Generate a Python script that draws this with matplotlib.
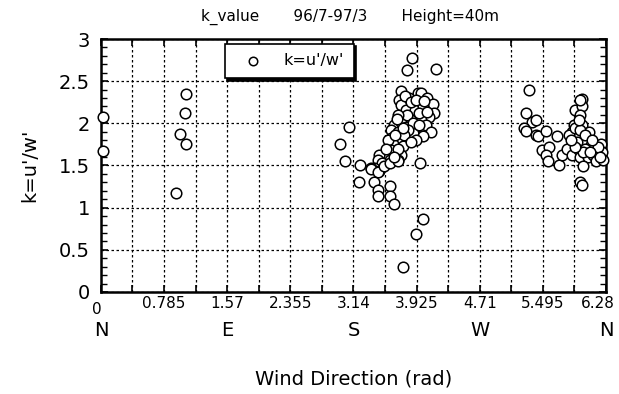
import numpy as np
import matplotlib.pyplot as plt
from matplotlib.ticker import MultipleLocator
import matplotlib.transforms as mtransforms

# wind direction (rad) and k = u'/w'
dir_north_east = [0.03, 0.03, 1.06, 1.05, 0.98, 1.06, 0.93]
k_north_east = [2.07, 1.67, 2.35, 2.12, 1.87, 1.76, 1.17]

dir_south = [3.87, 3.80, 4.17, 3.09, 2.97, 3.04, 3.22, 3.21, 3.97,
             3.73, 3.83, 3.94, 3.98, 4.05, 3.71, 3.73, 4.13, 4.14, 3.79,
             3.90, 4.00, 4.08, 3.75, 3.86, 3.98, 3.65, 3.73, 4.04, 3.79,
             3.90, 4.10, 3.61, 3.69, 3.88, 4.00, 3.61, 3.73, 3.63, 3.57,
             3.75, 3.61, 3.73, 3.52, 3.46, 3.44, 3.59, 3.69, 3.50, 3.40,
             3.36, 3.46, 3.36, 3.44, 3.52, 3.59, 3.69, 3.39, 3.44, 3.44,
             3.60, 3.59, 3.64, 4.00, 3.92, 3.76,
             3.78, 3.85, 3.92, 4.02, 3.81, 3.95, 4.05, 3.70, 3.88, 3.96,
             3.82, 3.77, 3.66, 3.70, 3.64, 3.55, 3.92, 3.85, 3.76, 3.68]
k_south = [2.77, 2.63, 2.64, 1.96, 1.76, 1.55, 1.51, 1.30, 1.53,
           2.38, 2.30, 2.36, 2.36, 2.30, 2.28, 2.22, 2.23, 2.12, 2.16,
           2.16, 2.20, 2.08, 2.06, 2.04, 2.04, 1.98, 2.02, 1.98, 1.96,
           1.94, 1.90, 1.92, 1.90, 1.88, 1.85, 1.83, 1.80, 1.76, 1.80,
           1.73, 1.68, 1.62, 1.64, 1.62, 1.57, 1.57, 1.57, 1.53, 1.47,
           1.47, 1.43, 1.46, 1.42, 1.49, 1.53, 1.55, 1.30, 1.21, 1.14,
           1.26, 1.14, 1.04, 0.87, 0.69, 0.30,
           2.32, 2.25, 2.28, 2.26, 2.10, 2.12, 2.14, 2.10, 2.00, 1.98,
           1.92, 1.86, 1.86, 1.70, 1.60, 1.70, 1.80, 1.78, 1.95, 2.05]

dir_west = [5.32, 5.28, 5.36, 5.41, 5.26, 5.28, 5.41, 5.44, 5.53, 5.67,
            5.48, 5.57, 5.53, 5.56, 5.69, 5.73, 5.80, 5.86, 5.89, 5.98,
            5.98, 5.96, 5.88, 5.98, 5.86, 5.94, 6.07, 6.00, 5.92, 6.09,
            5.94, 6.02, 5.96, 6.05, 6.12, 6.15, 6.00, 6.22, 6.23, 6.24,
            6.18, 5.82, 5.96, 5.96, 5.98,
            5.90, 5.96, 6.02, 5.99, 6.08, 6.20, 5.90, 5.84, 5.95, 6.10]
k_west = [2.39, 2.12, 2.02, 2.04, 1.94, 1.91, 1.86, 1.85, 1.91, 1.85,
          1.68, 1.72, 1.62, 1.55, 1.51, 1.62, 1.70, 1.62, 2.16, 2.29,
          2.20, 2.10, 1.98, 1.98, 1.90, 1.86, 1.90, 1.78, 1.78, 1.74,
          1.68, 1.70, 1.60, 1.60, 1.62, 1.55, 1.49, 1.76, 1.66, 1.57,
          1.72, 1.86, 2.28, 1.31, 1.27,
          1.95, 1.92, 1.86, 1.66, 1.66, 1.60, 1.72, 1.80, 2.04, 1.80]

direction = dir_north_east + dir_south + dir_west
k_value = k_north_east + k_south + k_west

x_ticks = [0, 0.785, 1.57, 2.355, 3.14, 3.925, 4.71, 5.495, 6.28]
x_labels = ['0', '0.785', '1.57', '2.355', '3.14', '3.925', '4.71', '5.495', '6.28']
y_ticks = [0, 0.5, 1, 1.5, 2, 2.5, 3]
y_labels = ['0', '0.5', '1', '1.5', '2', '2.5', '3']
compass = ['N', 'E', 'S', 'W', 'N']
compass_pos = [0, 1.57, 3.14, 4.71, 6.28]

fig = plt.figure(figsize=(6.19, 3.94), dpi=100)
ax = fig.add_axes([0.163, 0.259, 0.816, 0.642])

ax.scatter(direction, k_value, s=58, facecolors='white', edgecolors='black',
           linewidths=1.1, zorder=3, clip_on=False, label="k=u'/w'")

ax.set_xlim(0, 6.28)
ax.set_ylim(0, 3)
ax.set_xticks(x_ticks)
ax.set_xticklabels(x_labels, fontsize=11)
ax.xaxis.set_minor_locator(MultipleLocator(0.3925))
ax.set_yticks(y_ticks)
ax.set_yticklabels(y_labels, fontsize=14)
ax.yaxis.set_minor_locator(MultipleLocator(0.1))

ax.tick_params(axis='both', which='both', direction='in', top=True, right=True)
ax.tick_params(axis='x', which='major', length=5, width=1.2, pad=3)
ax.tick_params(axis='x', which='minor', length=5, width=1.2)
ax.tick_params(axis='y', which='major', length=5, width=1.2, pad=8)
ax.tick_params(axis='y', which='minor', length=4, width=1.0)

# nudge the end labels like the original
xt = ax.get_xticklabels()
xt[0].set_transform(xt[0].get_transform() + mtransforms.ScaledTranslation(-3/72, -4/72, fig.dpi_scale_trans))
xt[-1].set_transform(xt[-1].get_transform() + mtransforms.ScaledTranslation(-6/72, 0, fig.dpi_scale_trans))

ax.grid(True, which='both', axis='x', linestyle=(0, (2, 2)), color='black', linewidth=0.9)
ax.grid(True, which='major', axis='y', linestyle=(0, (2, 2)), color='black', linewidth=0.9)
for side in ax.spines.values():
    side.set_linewidth(1.8)

for pos, name in zip(compass_pos, compass):
    ax.annotate(name, xy=(pos, 0), xycoords=('data', 'axes fraction'),
                xytext=(0, -21), textcoords='offset points',
                ha='center', va='top', fontsize=14)

ax.set_xlabel('Wind Direction (rad)', fontsize=14, labelpad=38)
ax.set_ylabel("k=u'/w'", fontsize=14, labelpad=14)

fig.text(0.565, 0.958, 'k_value       96/7-97/3       Height=40m',
         ha='center', va='center', fontsize=11)

leg = ax.legend(loc='upper left', bbox_to_anchor=(0.245, 0.982), fontsize=11.5,
                fancybox=False, edgecolor='black', framealpha=1,
                shadow={'color': 'black', 'alpha': 1}, markerscale=0.8,
                handlelength=2.4, handletextpad=0.7, borderpad=0.6, borderaxespad=0)
leg.get_frame().set_linewidth(1.2)
leg.set_zorder(5)

fig.savefig('out.png', dpi=100)
